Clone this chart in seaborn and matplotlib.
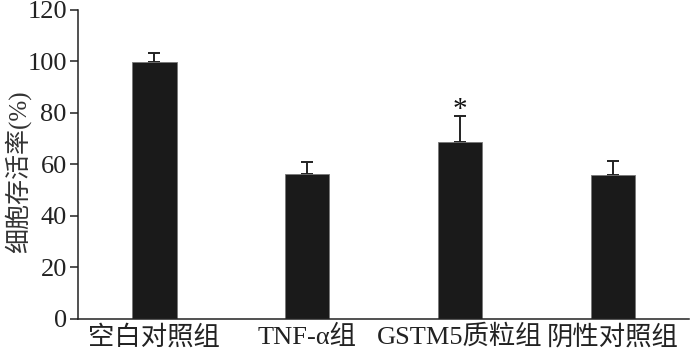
import pandas as pd
import seaborn as sns
import matplotlib
matplotlib.use("Agg")
import matplotlib.pyplot as plt

groups = ["空白对照组", "TNF-α组", "GSTM5质粒组", "阴性对照组"]
survival = [99.7, 56.2, 68.9, 55.8]
sd = [3.6, 4.8, 9.9, 5.7]
marks = ["", "", "*", ""]

sns.set_theme(style="ticks")
plt.rcParams["font.family"] = ["Liberation Serif", "Noto Sans CJK SC", "DejaVu Sans"]

df = pd.DataFrame({"group": groups, "survival": survival})

fig = plt.figure(figsize=(7, 3.56), dpi=100)
ax = fig.add_axes([0.1114, 0.104, 0.873, 0.868])

sns.barplot(data=df, x="group", y="survival", color="#1a1a1a", width=0.29,
            edgecolor="#777777", linewidth=0.6, saturation=1, errorbar=None, ax=ax, zorder=2)
ax.errorbar(range(len(groups)), survival, yerr=[[0] * len(sd), sd], fmt="none",
            ecolor="#222222", elinewidth=1.4, capsize=4, capthick=1.4, zorder=1)

for i, m in enumerate(marks):
    if m:
        ax.text(i, survival[i] + sd[i] + 2.5, m, ha="center", va="center",
                fontsize=21, color="#111111")

ax.set_xlim(-0.5, 3.5)
ax.set_ylim(0, 120)
ax.set_yticks(range(0, 121, 20))
ax.set_xlabel("")
ax.set_ylabel("细胞存活率(%)", fontsize=18, color="#333333")
ax.yaxis.set_label_coords(-0.077, 0.476)
ax.tick_params(axis="y", direction="out", length=6, width=1.1, labelsize=19,
               colors="#222222", pad=2)
ax.tick_params(axis="x", length=0, labelsize=19, colors="#222222", pad=4)
sns.despine(ax=ax)
for s in ["left", "bottom"]:
    ax.spines[s].set_linewidth(1.1)
    ax.spines[s].set_color("#222222")

fig.savefig("out.png", dpi=100)
